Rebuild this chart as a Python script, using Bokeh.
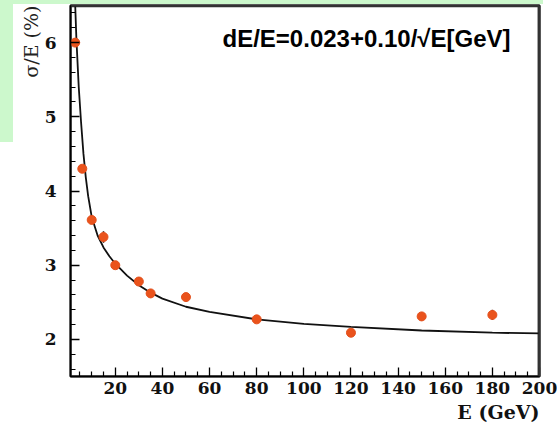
from bokeh.embed import file_html
from bokeh.models import FixedTicker, Label, LinearAxis, Range1d, Title
from bokeh.plotting import figure
from bokeh.resources import INLINE

# Measured energy resolution
energy_gev = [3, 6, 10, 15, 20, 30, 35, 50, 80, 120, 150, 180]
sigma_over_e = [6.0, 4.30, 3.61, 3.38, 3.00, 2.78, 2.62, 2.57, 2.27, 2.09, 2.31, 2.33]
sigma_err = [0.02, 0.03, 0.03, 0.08, 0.03, 0.06, 0.06, 0.03, 0.03, 0.03, 0.06, 0.07]

# Fitted resolution curve
fit_energy = [2.7, 3.0, 3.5, 4.5, 5.5, 6.5, 7.5, 8.5, 10, 12.5, 15, 17.5, 20, 25, 30,
              35, 40, 50, 60, 80, 100, 120, 150, 180, 200]
fit_sigma = [6.85, 6.5, 6.05, 5.4, 4.92, 4.5, 4.18, 3.93, 3.65, 3.40, 3.24, 3.12, 3.02,
             2.86, 2.73, 2.63, 2.55, 2.44, 2.37, 2.27, 2.21, 2.17, 2.12, 2.09, 2.08]

x_major = [20, 40, 60, 80, 100, 120, 140, 160, 180, 200]
x_minor = [5, 10, 15, 25, 30, 35, 45, 50, 55, 65, 70, 75, 85, 90, 95, 105, 110, 115,
           125, 130, 135, 145, 150, 155, 165, 170, 175, 185, 190, 195]
y_major = [2, 3, 4, 5, 6]
y_minor = [1.6, 1.8, 2.2, 2.4, 2.6, 2.8, 3.2, 3.4, 3.6, 3.8, 4.2, 4.4, 4.6, 4.8,
           5.2, 5.4, 5.6, 5.8, 6.2, 6.4]

formula_text = "dE/E=0.023+0.10/\u221aE[GeV]"

# light green slide background showing along the top and left edges
green = "#ccf8cc"
page_css = {
    "background-color": "white",
    "background-image": f"linear-gradient({green},{green}), linear-gradient({green},{green})",
    "background-size": "13px 142px, 543px 4px",
    "background-position": "0 0, 0 0",
    "background-repeat": "no-repeat",
}

x_range = Range1d(1, 200)
y_range = Range1d(1.5, 6.5)
p = figure(width=557, height=424, output_backend="svg", toolbar_location=None,
           x_range=x_range, y_range=y_range,
           min_border_left=70, min_border_right=18, min_border_top=5,
           min_border_bottom=20, styles=page_css)
p.background_fill_color = "white"
p.border_fill_alpha = 0
p.outline_line_color = "black"
p.outline_line_width = 2
p.grid.visible = False

tick_font = "DejaVu Serif"
for ax in (p.xaxis[0], p.yaxis[0]):
    ax.axis_line_width = 1.5
    ax.axis_line_color = "black"
    ax.major_tick_in = 9
    ax.major_tick_out = 0
    ax.minor_tick_in = 5
    ax.minor_tick_out = 0
    ax.major_tick_line_width = 1.3
    ax.minor_tick_line_width = 1.2
    ax.major_label_text_font = tick_font
    ax.major_label_text_font_style = "bold"
    ax.major_label_text_font_size = "17px"
    ax.major_label_text_color = "#111111"

p.xaxis.ticker = FixedTicker(ticks=x_major, minor_ticks=x_minor)
p.yaxis.ticker = FixedTicker(ticks=y_major, minor_ticks=y_minor)
p.xaxis.major_label_standoff = 5
p.yaxis.major_label_standoff = 14

# frame borders on the top and right: tickless axes
for side in ("right", "above"):
    p.add_layout(LinearAxis(ticker=FixedTicker(ticks=[]), axis_line_width=2,
                            axis_line_color="#333333", major_tick_in=0,
                            major_tick_out=0, minor_tick_in=0, minor_tick_out=0),
                 side)

# and a frame rectangle inside the range limits
p.quad(left=[x_range.start], right=[x_range.end - 0.4], bottom=[y_range.start],
       top=[y_range.end - 0.01], fill_alpha=0, line_color="#333333", line_width=2)

# axis titles, set at the far ends of their axes
p.add_layout(Title(text="E (GeV)", align="right", text_font=tick_font,
                   text_font_style="bold", text_font_size="19px",
                   text_color="#111111", standoff=4, offset=0), "below")
p.add_layout(Title(text="\u03c3/E (%)", align="right", text_font=tick_font,
                   text_font_style="normal", text_font_size="19px",
                   text_color="#222222", standoff=0, offset=0), "left")

# fit curve
p.line(fit_energy, fit_sigma, line_color="#111111", line_width=1.8)

# data points with error bars
lo = [v - e for v, e in zip(sigma_over_e, sigma_err)]
hi = [v + e for v, e in zip(sigma_over_e, sigma_err)]
p.segment(x0=energy_gev, y0=lo, x1=energy_gev, y1=hi, line_color="#6b4a40",
          line_width=1.6)
p.scatter(energy_gev, sigma_over_e, size=9, fill_color="#ea531c", line_color="#e4501c")

p.add_layout(Label(x=65.5, y=6.05, text=formula_text, text_align="left",
                   text_baseline="middle", text_font="Liberation Sans",
                   text_font_style="bold", text_font_size="24px",
                   text_color="black"))

open("out.html", "w").write(file_html(p, INLINE))
